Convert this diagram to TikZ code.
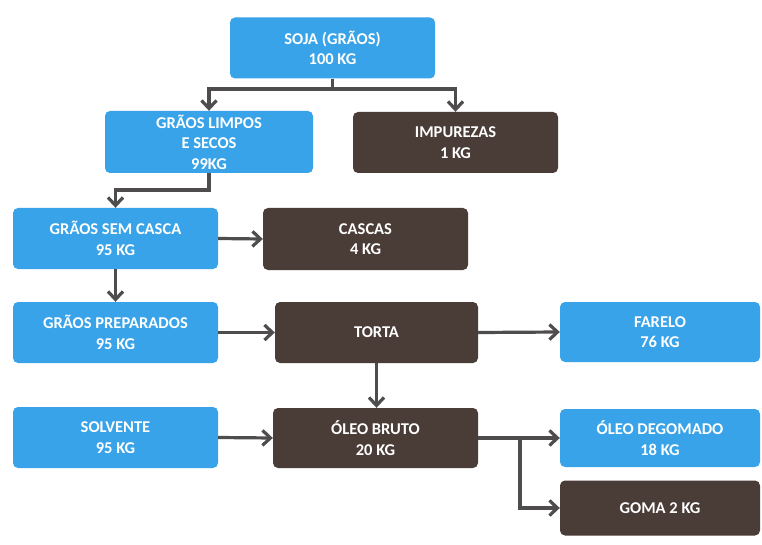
\documentclass[tikz,border=0pt]{standalone}
\usepackage{fontspec}
\setmainfont{Carlito}
\usetikzlibrary{arrows.meta}
\definecolor{flowblue}{RGB}{56,163,232}
\definecolor{flowbrown}{RGB}{74,60,54}
\definecolor{flowline}{RGB}{78,76,76}
\tikzset{
  box/.style={rounded corners=5pt, minimum width=205pt, minimum height=61pt,
    inner sep=0pt, align=center, text=white,
    font=\fontsize{16.5}{20.5}\selectfont\bfseries},
  inbox/.style={box, fill=flowblue},
  outbox/.style={box, fill=flowbrown},
  flow/.style={draw=flowline, line width=3.2pt,
    -{Straight Barb[length=8pt,width=15pt]}},
  plain/.style={draw=flowline, line width=3.2pt}
}
\begin{document}
\begin{tikzpicture}[x=1pt,y=-1pt]
\useasboundingbox[fill=white] (0,0) rectangle (762,545);

% process steps
\node[inbox] (soja) at (332.5,48) {SOJA (GRÃOS)\\100 KG};
\node[inbox, minimum width=208pt, minimum height=62pt] (limpos) at (209,142) {GRÃOS LIMPOS\\E SECOS\\99KG};
\node[outbox] (impurezas) at (455.5,142.5) {IMPUREZAS\\1 KG};
\node[inbox] (semcasca) at (115.5,238.5) {GRÃOS SEM CASCA\\95 KG};
\node[outbox, minimum height=62pt] (cascas) at (365.5,239) {CASCAS\\4 KG};
\node[inbox] (preparados) at (115.5,332.5) {GRÃOS PREPARADOS\\95 KG};
\node[outbox, minimum width=203pt] (torta) at (376.5,332.5) {TORTA};
\node[inbox, minimum width=200pt, minimum height=60pt] (farelo) at (660,332) {FARELO\\76 KG};
\node[inbox] (solvente) at (115.5,437.5) {SOLVENTE\\95 KG};
\node[outbox, minimum height=60pt] (bruto) at (375.5,438) {ÓLEO BRUTO\\20 KG};
\node[inbox, minimum width=200pt, minimum height=58pt] (degomado) at (660,438) {ÓLEO DEGOMADO\\18 KG};
\node[outbox, minimum width=200pt, minimum height=55pt] (goma) at (660,508) {GOMA 2 KG};

% connectors
\coordinate (sojasplit) at (332.5,89);
\coordinate (limposturn) at (209,190);
\coordinate (brutosplit) at (520,438);

\draw[plain] (soja.south) -- (sojasplit);
\draw[flow] (sojasplit) -| (limpos.north);
\draw[flow] (sojasplit) -| (impurezas.north);
\draw[flow] (limpos.south) -- (limposturn) -| (semcasca.north);
\draw[flow] (semcasca.east) -- (cascas.west);
\draw[flow] (semcasca.south) -- (preparados.north);
\draw[flow] (preparados.east) -- (torta.west);
\draw[flow] (torta.east) -- (farelo.west);
\draw[flow] (torta.south) -- (torta.south |- bruto.north);
\draw[flow] (solvente.east) -- (bruto.west);
\draw[flow] (bruto.east) -- (degomado.west);
\draw[flow] (brutosplit) |- (goma.west);
\end{tikzpicture}
\end{document}
